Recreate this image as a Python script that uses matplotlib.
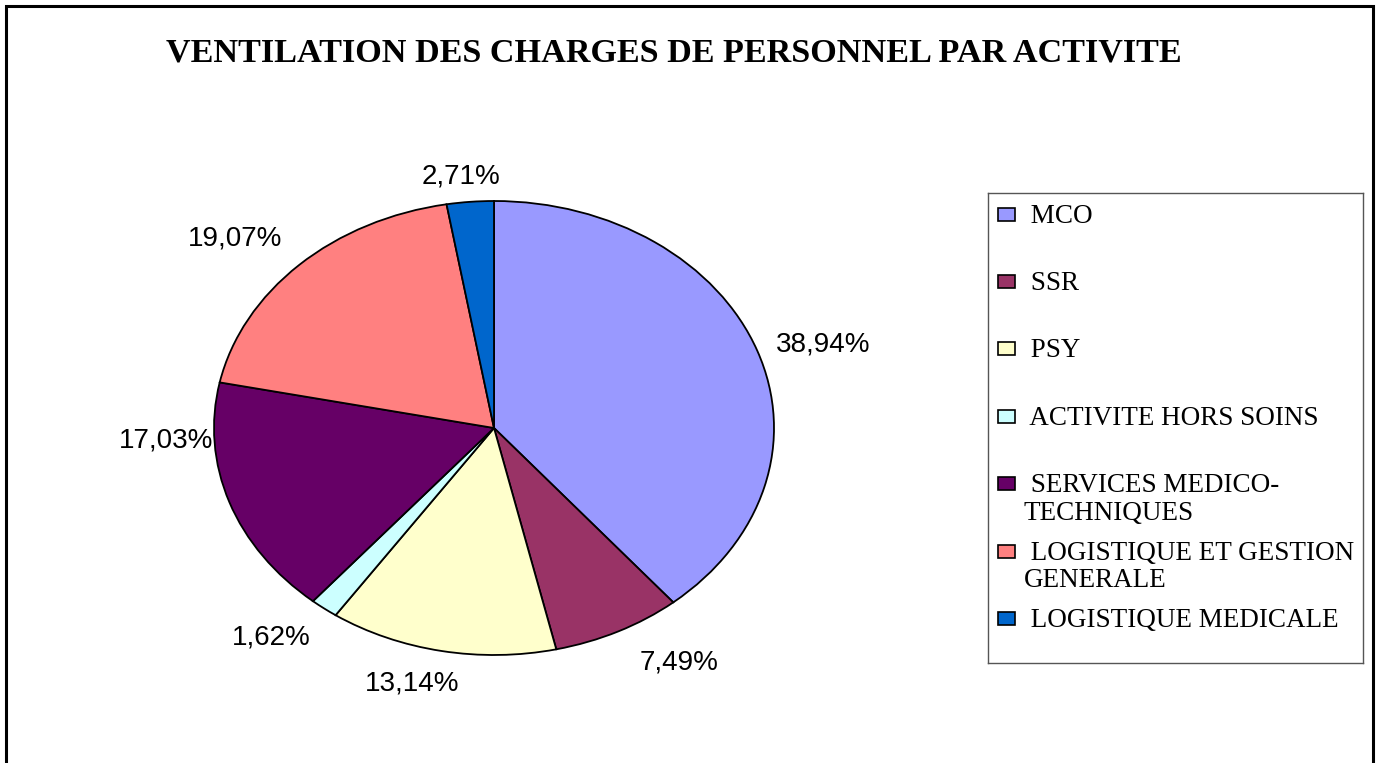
import textwrap
import numpy as np
import matplotlib
matplotlib.use("Agg")
import matplotlib.pyplot as plt
from matplotlib.patches import Rectangle

# ---- data ----
categories = ["MCO", "SSR", "PSY", "ACTIVITE HORS SOINS",
              "SERVICES MEDICO-TECHNIQUES", "LOGISTIQUE ET GESTION GENERALE",
              "LOGISTIQUE MEDICALE"]
shares = [38.94, 7.49, 13.14, 1.62, 17.03, 19.07, 2.71]
colors = ["#9999FF", "#993366", "#FFFFCC", "#CCFFFF", "#660066", "#FF8080", "#0066CC"]
title = "VENTILATION DES CHARGES DE PERSONNEL PAR ACTIVITE"

# style: extra label nudge (points) per label
label_nudge = [(-2, 0), (8, -1), (-18, -1), (0, -1), (3.5, 49), (-1, 0), (-5, -4)]

W, H = 1378, 763
fig = plt.figure(figsize=(W / 100, H / 100), dpi=100)
fig.patch.set_facecolor("white")

# outer frame
fig.add_artist(Rectangle((5.5 / W, -0.02), (1372.5 - 5.5) / W, 1.02 - 6 / H,
                         transform=fig.transFigure, fill=False,
                         edgecolor="black", linewidth=2.2))

fig.text(674 / W, 1 - 53 / H, title, ha="center", va="center",
         fontsize=24.6, fontweight="bold", family="Liberation Serif")

# pie axes spanning the ellipse bbox
left, right, top, bottom = 214, 774, 201, 655
ax = fig.add_axes([left / W, 1 - bottom / H, (right - left) / W, (bottom - top) / H])
wedges, _ = ax.pie(shares, colors=colors, startangle=90, counterclock=False,
                   wedgeprops=dict(edgecolor="black", linewidth=1.3))
ax.set_aspect("auto")
ax.set_xlim(-1, 1)
ax.set_ylim(-1, 1)
ax.axis("off")

for w, v, nud in zip(wedges, shares, label_nudge):
    th = np.deg2rad((w.theta1 + w.theta2) / 2)
    c, s = np.cos(th), np.sin(th)
    ha = "left" if c > 0.3 else ("right" if c < -0.3 else "center")
    va = "bottom" if s > 0.4 else ("top" if s < -0.4 else "center")
    txt = f"{v:.2f}%".replace(".", ",")
    ax.annotate(txt, xy=(1.08 * c, 1.08 * s), xytext=nud, textcoords="offset points",
                ha=ha, va=va, fontsize=20, family="Liberation Sans",
                annotation_clip=False)

# legend (manual, Excel style)
lx0, lx1, ly0, ly1 = 988, 1363, 193, 663
lax = fig.add_axes([lx0 / W, 1 - ly1 / H, (lx1 - lx0) / W, (ly1 - ly0) / H])
lax.set_xlim(lx0, lx1)
lax.set_ylim(ly1, ly0)
lax.set_xticks([])
lax.set_yticks([])
for sp in lax.spines.values():
    sp.set_edgecolor("#555555")
    sp.set_linewidth(1.0)
first_y, step, line_pitch = 214, 67.4, 27.5
for i, (lab, col) in enumerate(zip(categories, colors)):
    yc = first_y + i * step
    lax.add_patch(Rectangle((998, yc - 6.5), 17, 13, facecolor=col,
                            edgecolor="black", linewidth=1.2))
    lines = textwrap.wrap(lab, width=21)
    for k, line in enumerate(lines):
        lax.text(1024, yc + 8.5 + k * line_pitch, (" " if k == 0 else "") + line,
                 ha="left", va="baseline", fontsize=19.5, family="Liberation Serif")

fig.savefig("out.png", dpi=100, facecolor="white")
